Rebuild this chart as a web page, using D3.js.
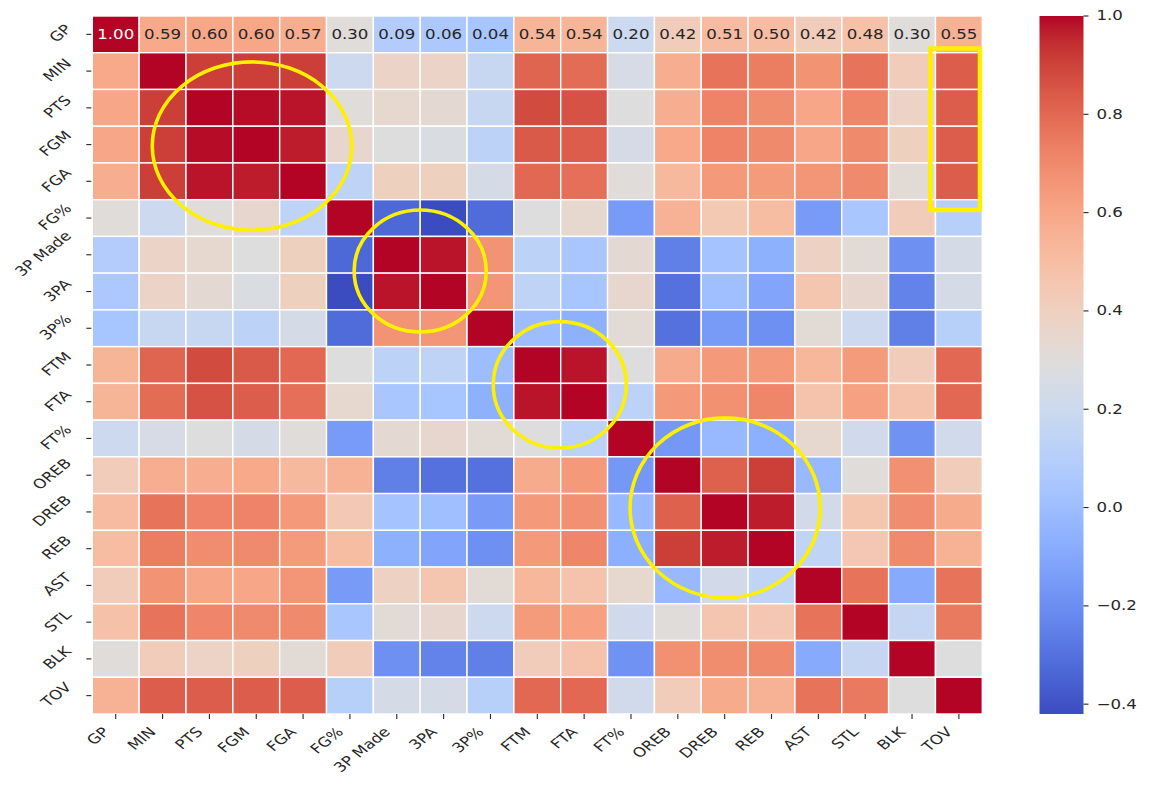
<!DOCTYPE html>
<html>
<head>
<meta charset="utf-8">
<script src="https://cdn.jsdelivr.net/npm/d3@7"></script>
<style>
  html, body { margin: 0; padding: 0; background: #ffffff; }
  svg { display: block; }
  text { font-family: "DejaVu Sans", sans-serif; }
</style>
</head>
<body>
<svg id="chart" width="1152" height="790"></svg>
<script>
// ---- data ----
const labels = ["GP","MIN","PTS","FGM","FGA","FG%","3P Made","3PA","3P%","FTM","FTA","FT%","OREB","DREB","REB","AST","STL","BLK","TOV"];

const rowGP   = [1.00,0.59,0.60,0.60,0.57,0.30,0.09,0.06,0.04,0.54,0.54,0.20,0.42,0.51,0.50,0.42,0.48,0.30,0.55];
const rowMIN  = [0.59,1.00,0.91,0.91,0.91,0.20,0.37,0.37,0.18,0.81,0.79,0.25,0.57,0.77,0.74,0.67,0.77,0.42,0.83];
const rowPTS  = [0.60,0.91,1.00,0.99,0.98,0.30,0.34,0.33,0.18,0.88,0.86,0.29,0.57,0.72,0.69,0.60,0.71,0.38,0.83];
const rowFGM  = [0.60,0.91,0.99,1.00,0.97,0.35,0.29,0.27,0.13,0.84,0.83,0.24,0.59,0.72,0.70,0.60,0.70,0.40,0.83];
const rowFGA  = [0.57,0.91,0.98,0.97,1.00,0.14,0.40,0.40,0.24,0.80,0.78,0.30,0.52,0.65,0.64,0.66,0.70,0.32,0.83];
const rowFGP  = [0.30,0.20,0.30,0.35,0.14,1.00,-0.33,-0.42,-0.32,0.29,0.34,-0.15,0.55,0.44,0.50,-0.15,0.05,0.42,0.11];
const row3PM  = [0.09,0.37,0.34,0.29,0.40,-0.33,1.00,0.98,0.67,0.13,0.05,0.33,-0.25,0.03,-0.06,0.39,0.32,-0.19,0.245];
const row3PA  = [0.06,0.37,0.33,0.27,0.40,-0.42,0.98,1.00,0.66,0.14,0.04,0.35,-0.30,0.01,-0.11,0.46,0.35,-0.24,0.245];
const row3PP  = [0.04,0.18,0.18,0.13,0.24,-0.32,0.67,0.66,1.00,0.00,-0.06,0.32,-0.30,-0.15,-0.19,0.32,0.20,-0.25,0.11];
const rowFTM  = [0.54,0.81,0.88,0.84,0.80,0.29,0.13,0.14,0.00,1.00,0.98,0.29,0.58,0.65,0.65,0.53,0.64,0.42,0.80];
const rowFTA  = [0.54,0.79,0.86,0.83,0.78,0.34,0.05,0.04,-0.06,0.98,1.00,0.13,0.65,0.68,0.71,0.47,0.62,0.47,0.80];
const rowFTP  = [0.20,0.25,0.29,0.24,0.30,-0.15,0.33,0.35,0.32,0.29,0.13,1.00,-0.16,-0.02,-0.07,0.34,0.22,-0.18,0.22];
const rowOREB = [0.42,0.57,0.57,0.59,0.52,0.55,-0.25,-0.30,-0.30,0.58,0.65,-0.16,1.00,0.82,0.91,-0.02,0.30,0.68,0.42];
const rowDREB = [0.51,0.77,0.72,0.72,0.65,0.44,0.03,0.01,-0.15,0.65,0.68,-0.02,0.82,1.00,0.97,0.23,0.46,0.69,0.58];
const rowREB  = [0.50,0.74,0.69,0.70,0.64,0.50,-0.06,-0.11,-0.19,0.65,0.71,-0.07,0.91,0.97,1.00,0.15,0.45,0.70,0.55];
const rowAST  = [0.42,0.67,0.60,0.60,0.66,-0.15,0.39,0.46,0.32,0.53,0.47,0.34,-0.02,0.23,0.15,1.00,0.77,-0.09,0.77];
const rowSTL  = [0.48,0.77,0.71,0.70,0.70,0.05,0.32,0.35,0.20,0.64,0.62,0.22,0.30,0.46,0.45,0.77,1.00,0.17,0.75];
const rowBLK  = [0.30,0.42,0.38,0.40,0.32,0.42,-0.19,-0.24,-0.25,0.42,0.47,-0.18,0.68,0.69,0.70,-0.09,0.17,1.00,0.29];
const rowTOV  = [0.55,0.83,0.83,0.83,0.83,0.11,0.245,0.245,0.11,0.80,0.80,0.22,0.42,0.58,0.55,0.77,0.75,0.29,1.00];

const matrix = [rowGP,rowMIN,rowPTS,rowFGM,rowFGA,rowFGP,row3PM,row3PA,row3PP,rowFTM,rowFTA,rowFTP,rowOREB,rowDREB,rowREB,rowAST,rowSTL,rowBLK,rowTOV];

const colorbarTicks = [-0.4,-0.2,0.0,0.2,0.4,0.6,0.8,1.0];
const vMin = -0.42, vMax = 1.0;

// highlight annotations (in cell units: center col,row and radii)
const ellipseCols  = [3.41, 7.00, 9.98, 13.51];
const ellipseRows  = [3.54, 6.94, 10.04, 13.39];
const ellipseRx    = [2.13, 1.41, 1.42, 2.03];
const ellipseRy    = [2.29, 1.66, 1.72, 2.45];
const boxCols = [17.89, 18.95];
const boxRows = [0.885, 5.28];

// coolwarm colormap table
const coolwarm = [
[59,76,192],[68,90,204],[77,104,215],[87,117,225],[98,130,234],[108,142,241],[119,154,247],[130,165,251],
[141,176,254],[152,185,255],[163,194,255],[174,201,253],[184,208,249],[194,213,244],[204,217,238],[213,219,230],
[221,221,221],[229,216,209],[236,211,197],[241,204,185],[245,196,173],[247,187,160],[247,177,148],[247,166,135],
[244,154,123],[241,141,111],[236,127,99],[229,112,88],[222,96,77],[213,80,66],[203,62,56],[192,40,47],[180,4,38]
].map(c => `rgb(${c[0]},${c[1]},${c[2]})`);

// ---- layout ----
const plotLeft = 92.3, plotRight = 982.3, plotTop = 16, plotBottom = 714;
const cbLeft = 1039.5, cbRight = 1083.5;
const SX = 1.25;          // horizontal stretch of the reference
const FS = 13.3;          // font size

const svg = d3.select("#chart");

const x = d3.scaleBand().domain(labels).range([plotLeft, plotRight]).padding(0);
const y = d3.scaleBand().domain(labels).range([plotTop, plotBottom]).padding(0);
const xi = d3.scaleLinear().domain([0, labels.length]).range([plotLeft, plotRight]);
const yi = d3.scaleLinear().domain([0, labels.length]).range([plotTop, plotBottom]);

const tPos = d3.range(coolwarm.length).map(i => vMin + (vMax - vMin) * i / (coolwarm.length - 1));
const color = d3.scaleLinear().domain(tPos).range(coolwarm).interpolate(d3.interpolateRgb).clamp(true);

// cells
const cells = [];
matrix.forEach((row, r) => row.forEach((v, c) => cells.push({r, c, v})));

svg.append("g").selectAll("rect").data(cells).enter().append("rect")
  .attr("x", d => x(labels[d.c]))
  .attr("y", d => y(labels[d.r]))
  .attr("width", x.bandwidth())
  .attr("height", y.bandwidth())
  .attr("fill", d => color(d.v))
  .attr("stroke", "#ffffff")
  .attr("stroke-width", 1.4);

// annotations (only first row shows numbers, like the reference)
const fmt = d3.format(".2f");
function lum(c) {
  const rgb = d3.rgb(c);
  const f = u => { u /= 255; return u <= 0.03928 ? u / 12.92 : Math.pow((u + 0.055) / 1.055, 2.4); };
  return 0.2126 * f(rgb.r) + 0.7152 * f(rgb.g) + 0.0722 * f(rgb.b);
}
svg.append("g").selectAll("text").data(cells.filter(d => d.r === 0)).enter().append("text")
  .attr("transform", d => `translate(${x(labels[d.c]) + x.bandwidth()/2},${y(labels[d.r]) + y.bandwidth()/2}) scale(${SX},1)`)
  .attr("text-anchor", "middle")
  .attr("dominant-baseline", "central")
  .attr("font-size", FS)
  .attr("fill", d => lum(color(d.v)) > 0.408 ? "#262626" : "#ffffff")
  .text(d => fmt(d.v));

const tickColor = "#262626";
const R = Math.SQRT1_2;

// x axis ticks and labels
const gx = svg.append("g");
labels.forEach(lab => {
  const cx = x(lab) + x.bandwidth() / 2;
  gx.append("line").attr("x1", cx).attr("x2", cx).attr("y1", plotBottom).attr("y2", plotBottom + 5)
    .attr("stroke", tickColor).attr("stroke-width", 1.1);
  const t = gx.append("text")
    .attr("text-anchor", "middle").attr("dominant-baseline", "central")
    .attr("font-size", FS).attr("fill", tickColor).text(lab);
  const L = t.node().getComputedTextLength();
  const h = FS * 0.78;
  const half = R * (L + h) / 2;
  const px = cx - 5 - SX * half;
  const py = plotBottom + 12 + half;
  t.attr("transform", `translate(${px},${py}) scale(${SX},1) rotate(-45)`);
});

// y axis ticks and labels
const gy = svg.append("g");
labels.forEach(lab => {
  const cy = y(lab) + y.bandwidth() / 2;
  gy.append("line").attr("x1", plotLeft - 6).attr("x2", plotLeft - 1).attr("y1", cy).attr("y2", cy)
    .attr("stroke", tickColor).attr("stroke-width", 1.1);
  const t = gy.append("text")
    .attr("text-anchor", "middle").attr("dominant-baseline", "central")
    .attr("font-size", FS).attr("fill", tickColor).text(lab);
  const L = t.node().getComputedTextLength();
  const h = FS * 0.78;
  const half = R * (L + h) / 2;
  const px = 73 - SX * half;
  const py = cy - 1;
  t.attr("transform", `translate(${px},${py}) scale(${SX},1) rotate(-45)`);
});

// colorbar
const cbScale = d3.scaleLinear().domain([vMin, vMax]).range([plotBottom, plotTop]);
const defs = svg.append("defs");
const grad = defs.append("linearGradient").attr("id", "cbgrad")
  .attr("x1", 0).attr("y1", 1).attr("x2", 0).attr("y2", 0);
coolwarm.forEach((c, i) => {
  grad.append("stop").attr("offset", i / (coolwarm.length - 1)).attr("stop-color", c);
});
svg.append("rect")
  .attr("x", cbLeft).attr("y", cbScale(vMax))
  .attr("width", cbRight - cbLeft).attr("height", cbScale(vMin) - cbScale(vMax))
  .attr("fill", "url(#cbgrad)");

const cbFmt = d3.format(".1f");
const gcb = svg.append("g");
colorbarTicks.forEach(v => {
  const ty = cbScale(v);
  gcb.append("line").attr("x1", cbRight).attr("x2", cbRight + 5).attr("y1", ty).attr("y2", ty)
    .attr("stroke", tickColor).attr("stroke-width", 1.1);
  gcb.append("text")
    .attr("transform", `translate(${cbRight + 13},${ty}) scale(${SX},1)`)
    .attr("text-anchor", "start").attr("dominant-baseline", "central")
    .attr("font-size", FS).attr("fill", tickColor).text(cbFmt(v));
});

// yellow highlight annotations
const yellow = "#fff000";
const cw = x.bandwidth(), ch = y.bandwidth();
const ga = svg.append("g");
ellipseCols.forEach((c, i) => {
  ga.append("ellipse")
    .attr("cx", xi(c)).attr("cy", yi(ellipseRows[i]))
    .attr("rx", ellipseRx[i] * cw).attr("ry", ellipseRy[i] * ch)
    .attr("fill", "none").attr("stroke", yellow).attr("stroke-width", 3.6);
});
ga.append("rect")
  .attr("x", xi(boxCols[0])).attr("y", yi(boxRows[0]))
  .attr("width", xi(boxCols[1]) - xi(boxCols[0])).attr("height", yi(boxRows[1]) - yi(boxRows[0]))
  .attr("fill", "none").attr("stroke", yellow).attr("stroke-width", 4.5);
</script>
</body>
</html>
